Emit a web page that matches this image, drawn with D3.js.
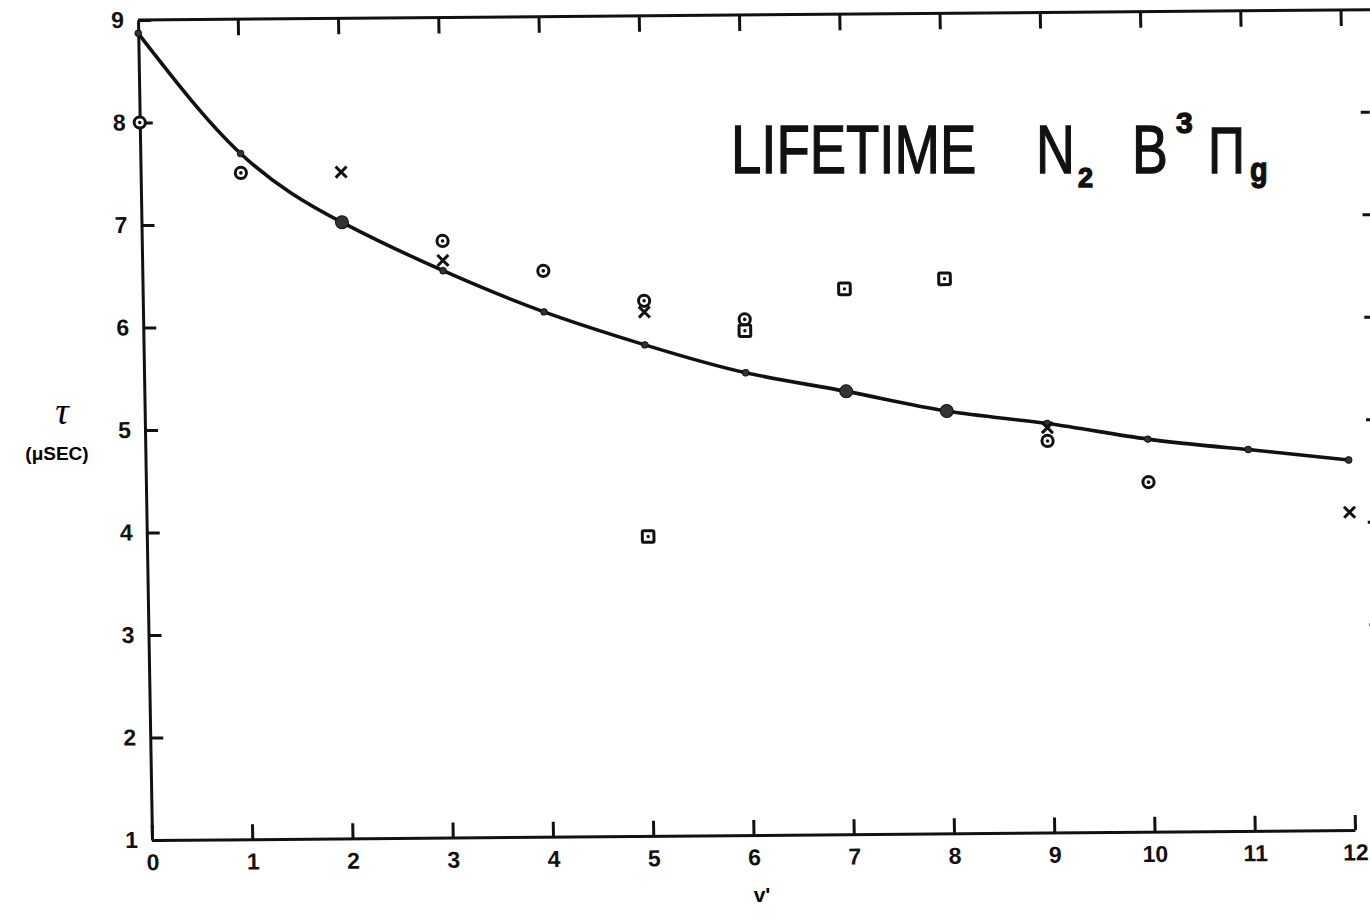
<!DOCTYPE html>
<html>
<head>
<meta charset="utf-8">
<script src="https://cdn.jsdelivr.net/npm/d3@7"></script>
<style>
  html, body { margin: 0; padding: 0; background: #fff; }
  svg { display: block; }
  .axis path, .axis line { stroke: #111; stroke-width: 3; }
  .axis text { font-family: "Liberation Sans", Arial, sans-serif; font-weight: bold; font-size: 23px; fill: #111; }
</style>
</head>
<body>
<div id="chart"></div>
<script>
// v' levels and the drawn fit curve
const vLevels = [0, 1, 2, 3, 4, 5, 6, 7, 8, 9, 10, 11, 12];
const fitTau = [8.87, 7.69, 7.01, 6.53, 6.12, 5.79, 5.51, 5.32, 5.12, 4.99, 4.83, 4.72, 4.61];
const fitBigDots = [2, 7, 8];

// measured lifetimes, one list per symbol
const circleV = [0, 1, 3, 4, 5, 6, 9, 10];
const circleTau = [8.0, 7.5, 6.82, 6.52, 6.22, 6.03, 4.82, 4.41];
const crossV = [2, 3, 5, 9, 12];
const crossTau = [7.5, 6.63, 6.11, 4.95, 4.1];
const squareV = [5, 6, 7, 8];
const squareTau = [3.92, 5.92, 6.32, 6.41];

const xTicks = [0, 1, 2, 3, 4, 5, 6, 7, 8, 9, 10, 11, 12];
const yTicks = [1, 2, 3, 4, 5, 6, 7, 8, 9];

const width = 1370, height = 918;
const W = 1203, H = 820;

const svg = d3.select('#chart').append('svg')
  .attr('width', width).attr('height', height);

// the scanned page is slightly skewed, so the plot frame is too
const plot = svg.append('g')
  .attr('transform', `matrix(1, ${-10 / 1203}, ${14 / 820}, 1, 152, 840) translate(0, ${-H})`);

const x = d3.scaleLinear().domain([0, 12]).range([0, W]);
const y = d3.scaleLinear().domain([1, 9]).range([H, 0]);
const rightEdge = W + 27;

// bottom axis
plot.append('g').attr('class', 'axis')
  .attr('transform', `translate(0, ${H})`)
  .call(d3.axisBottom(x).tickValues(xTicks).tickSizeInner(-15).tickSizeOuter(0).tickPadding(14));

// left axis
plot.append('g').attr('class', 'axis')
  .call(d3.axisLeft(y).tickValues(yTicks).tickSizeInner(-13).tickSizeOuter(0).tickPadding(14));

// top frame line with ticks, no labels
plot.append('line')
  .attr('x1', 0).attr('x2', rightEdge + 20).attr('y1', 0).attr('y2', 0)
  .attr('stroke', '#111').attr('stroke-width', 3);
plot.append('g').selectAll('line')
  .data(xTicks.slice(1))
  .join('line')
  .attr('x1', (d) => x(d)).attr('x2', (d) => x(d))
  .attr('y1', 0).attr('y2', 16)
  .attr('stroke', '#111').attr('stroke-width', 3);

// right side ticks (frame line falls off the page)
plot.append('g').selectAll('line')
  .data(yTicks.slice(1, -1))
  .join('line')
  .attr('x1', rightEdge - 9).attr('x2', rightEdge)
  .attr('y1', (d) => y(d)).attr('y2', (d) => y(d))
  .attr('stroke', '#111').attr('stroke-width', 3);

// fit curve
const line = d3.line()
  .x((d, i) => x(vLevels[i]))
  .y((d) => y(d))
  .curve(d3.curveNatural);

plot.append('path')
  .datum(fitTau)
  .attr('d', line)
  .attr('fill', 'none')
  .attr('stroke', '#111')
  .attr('stroke-width', 3.6);

plot.append('g').selectAll('circle')
  .data(vLevels)
  .join('circle')
  .attr('cx', (d) => x(d))
  .attr('cy', (d, i) => y(fitTau[i]))
  .attr('r', (d) => (fitBigDots.includes(d) ? 6.5 : 3.2))
  .attr('fill', '#333')
  .attr('stroke', '#111')
  .attr('stroke-width', 1);

// circle-with-dot markers
const circles = plot.append('g').selectAll('g')
  .data(circleV)
  .join('g')
  .attr('transform', (d, i) => `translate(${x(d)}, ${y(circleTau[i])})`);
circles.append('circle').attr('r', 5.6).attr('fill', '#fff').attr('stroke', '#111').attr('stroke-width', 3);
circles.append('circle').attr('r', 1.8).attr('fill', '#111');

// cross markers
plot.append('g').selectAll('path')
  .data(crossV)
  .join('path')
  .attr('d', (d, i) => {
    const cx = x(d), cy = y(crossTau[i]), s = 5.5;
    return `M${cx - s},${cy - s}L${cx + s},${cy + s}M${cx - s},${cy + s}L${cx + s},${cy - s}`;
  })
  .attr('stroke', '#111')
  .attr('stroke-width', 3)
  .attr('fill', 'none');

// square-with-dot markers
const squares = plot.append('g').selectAll('g')
  .data(squareV)
  .join('g')
  .attr('transform', (d, i) => `translate(${x(d)}, ${y(squareTau[i])})`);
squares.append('rect')
  .attr('x', -5.8).attr('y', -5.8).attr('width', 11.6).attr('height', 11.6)
  .attr('rx', 1.5)
  .attr('fill', '#fff').attr('stroke', '#111').attr('stroke-width', 3);
squares.append('circle').attr('r', 1.7).attr('fill', '#111');

// axis titles
svg.append('text')
  .attr('x', 762).attr('y', 902)
  .attr('text-anchor', 'middle')
  .style('font-family', '"Liberation Sans", Arial, sans-serif')
  .style('font-weight', 'bold')
  .style('font-size', '21px')
  .text("v'");

svg.append('text')
  .attr('x', 62).attr('y', 424)
  .attr('text-anchor', 'middle')
  .style('font-family', '"Liberation Serif", serif')
  .style('font-style', 'italic')
  .style('font-size', '38px')
  .text('τ');

svg.append('text')
  .attr('x', 57).attr('y', 460)
  .attr('text-anchor', 'middle')
  .style('font-family', '"Liberation Sans", Arial, sans-serif')
  .style('font-weight', 'bold')
  .style('font-size', '19px')
  .text('(μSEC)');

// title pieces, narrowed to match the lettering-guide type
const titleParts = [
  { text: 'LIFETIME', x: 731, y: 173, size: 69, sx: 0.79, bold: false },
  { text: 'N', x: 1036, y: 173, size: 69, sx: 0.78, bold: false },
  { text: '2', x: 1078, y: 187, size: 27, sx: 1, bold: true },
  { text: 'B', x: 1132, y: 173, size: 69, sx: 0.78, bold: false },
  { text: '3', x: 1176, y: 133, size: 30, sx: 1, bold: true },
  { text: 'Π', x: 1208, y: 173, size: 64, sx: 0.8, bold: false },
  { text: 'g', x: 1250, y: 181, size: 34, sx: 0.85, bold: true }
];

svg.append('g')
  .style('font-family', '"Liberation Sans", Arial, sans-serif')
  .style('fill', '#111')
  .style('stroke', '#111')
  .style('stroke-width', 1.3)
  .selectAll('text')
  .data(titleParts)
  .join('text')
  .attr('transform', (d) => `translate(${d.x}, ${d.y}) scale(${d.sx}, 1)`)
  .style('font-size', (d) => `${d.size}px`)
  .style('font-weight', (d) => (d.bold ? 'bold' : 'normal'))
  .text((d) => d.text);
</script>
</body>
</html>
